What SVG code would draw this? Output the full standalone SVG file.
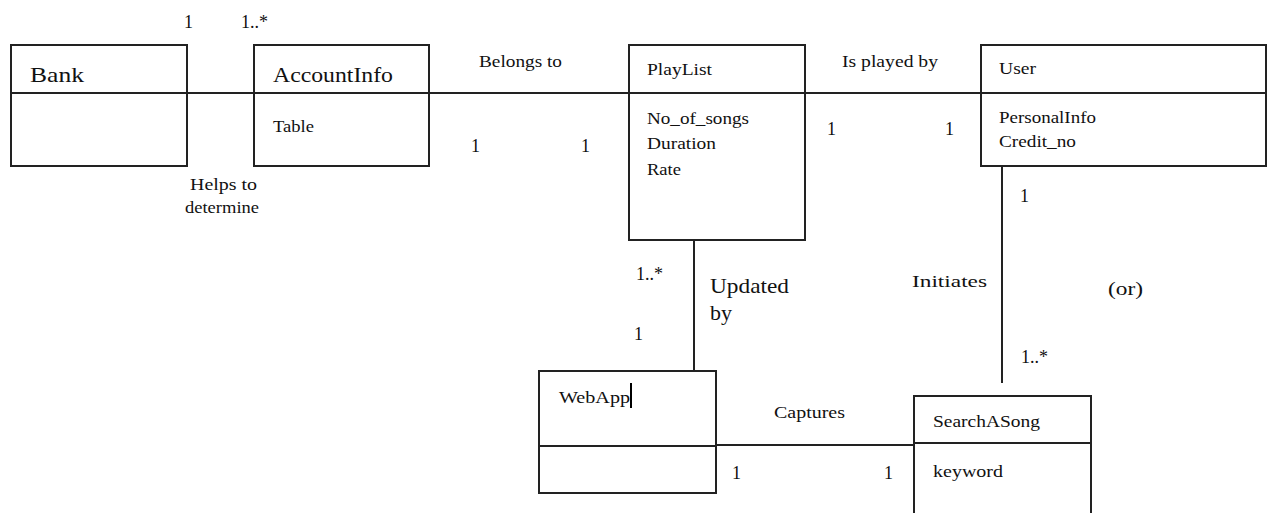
<svg xmlns="http://www.w3.org/2000/svg" width="1270" height="513" viewBox="0 0 1270 513" font-family="Liberation Serif">
<rect width="1270" height="513" fill="#fff"/>
<g id="connectors" stroke="#222" stroke-width="2" fill="none">
<line x1="187" y1="93" x2="254" y2="93"/>
<line x1="429" y1="93" x2="629" y2="93"/>
<line x1="805" y1="93" x2="981" y2="93"/>
<line x1="694" y1="240" x2="694" y2="371"/>
<line x1="1002" y1="166" x2="1002" y2="383"/>
<line x1="716" y1="445" x2="914" y2="445"/>
</g>
<g id="labels" font-family="Liberation Serif" font-size="18" fill="#111">
<text x="184" y="28">1</text>
<text x="241" y="28">1..*</text>
<text x="190" y="190" font-size="17" textLength="67" lengthAdjust="spacingAndGlyphs">Helps to</text>
<text x="185" y="213" font-size="17" textLength="74" lengthAdjust="spacingAndGlyphs">determine</text>
<text x="479" y="67" font-size="17" textLength="83" lengthAdjust="spacingAndGlyphs">Belongs to</text>
<text x="471" y="152">1</text>
<text x="581" y="152">1</text>
<text x="842" y="67" font-size="17" textLength="96" lengthAdjust="spacingAndGlyphs">Is played by</text>
<text x="827" y="135">1</text>
<text x="945" y="135">1</text>
<text x="1020" y="202">1</text>
<text x="636" y="280">1..*</text>
<text x="634" y="340">1</text>
<text x="710" y="293" font-size="22" textLength="79" lengthAdjust="spacingAndGlyphs">Updated</text>
<text x="710" y="320" font-size="22">by</text>
<text x="912" y="287" font-size="17" textLength="75" lengthAdjust="spacingAndGlyphs">Initiates</text>
<text x="1108" y="295" font-size="19" textLength="35" lengthAdjust="spacingAndGlyphs">(or)</text>
<text x="1021" y="363">1..*</text>
<text x="774" y="418" font-size="17" textLength="71" lengthAdjust="spacingAndGlyphs">Captures</text>
<text x="732" y="479">1</text>
<text x="884" y="479">1</text>
</g>
<g id="bank" font-family="Liberation Serif" fill="#111">
<rect x="11" y="45" width="176" height="121" fill="#fff" stroke="#222" stroke-width="2"/>
<line x1="11" y1="93" x2="187" y2="93" stroke="#222" stroke-width="2"/>
<text x="30" y="82" font-size="22" textLength="54" lengthAdjust="spacingAndGlyphs">Bank</text>
</g>
<g id="accountinfo" font-family="Liberation Serif" fill="#111" font-size="17">
<rect x="254" y="45" width="175" height="121" fill="#fff" stroke="#222" stroke-width="2"/>
<line x1="254" y1="93" x2="429" y2="93" stroke="#222" stroke-width="2"/>
<text x="273" y="82" font-size="22" textLength="120" lengthAdjust="spacingAndGlyphs">AccountInfo</text>
<text x="273" y="132" textLength="41" lengthAdjust="spacingAndGlyphs">Table</text>
</g>
<g id="playlist" font-family="Liberation Serif" fill="#111" font-size="17">
<rect x="629" y="45" width="176" height="195" fill="#fff" stroke="#222" stroke-width="2"/>
<line x1="629" y1="93" x2="805" y2="93" stroke="#222" stroke-width="2"/>
<text x="647" y="75" textLength="65" lengthAdjust="spacingAndGlyphs">PlayList</text>
<text x="647" y="124" textLength="102" lengthAdjust="spacingAndGlyphs">No_of_songs</text>
<text x="647" y="149" textLength="69" lengthAdjust="spacingAndGlyphs">Duration</text>
<text x="647" y="175" textLength="34" lengthAdjust="spacingAndGlyphs">Rate</text>
</g>
<g id="user" font-family="Liberation Serif" fill="#111" font-size="17">
<rect x="981" y="45" width="285" height="121" fill="#fff" stroke="#222" stroke-width="2"/>
<line x1="981" y1="93" x2="1266" y2="93" stroke="#222" stroke-width="2"/>
<text x="999" y="74" textLength="37" lengthAdjust="spacingAndGlyphs">User</text>
<text x="999" y="123" textLength="97" lengthAdjust="spacingAndGlyphs">PersonalInfo</text>
<text x="999" y="147" textLength="77" lengthAdjust="spacingAndGlyphs">Credit_no</text>
</g>
<g id="webapp" font-family="Liberation Serif" fill="#111" font-size="17">
<rect x="539" y="371" width="177" height="122" fill="#fff" stroke="#222" stroke-width="2"/>
<line x1="539" y1="446" x2="716" y2="446" stroke="#222" stroke-width="2"/>
<text x="559" y="403" textLength="71" lengthAdjust="spacingAndGlyphs">WebApp</text>
<line x1="631" y1="383" x2="631" y2="408" stroke="#000" stroke-width="2"/>
</g>
<g id="searchasong" font-family="Liberation Serif" fill="#111" font-size="17">
<rect x="914" y="396" width="177" height="130" fill="#fff" stroke="#222" stroke-width="2"/>
<line x1="914" y1="443" x2="1091" y2="443" stroke="#222" stroke-width="2"/>
<text x="933" y="427" textLength="107" lengthAdjust="spacingAndGlyphs">SearchASong</text>
<text x="933" y="477" textLength="70" lengthAdjust="spacingAndGlyphs">keyword</text>
</g>
</svg>
